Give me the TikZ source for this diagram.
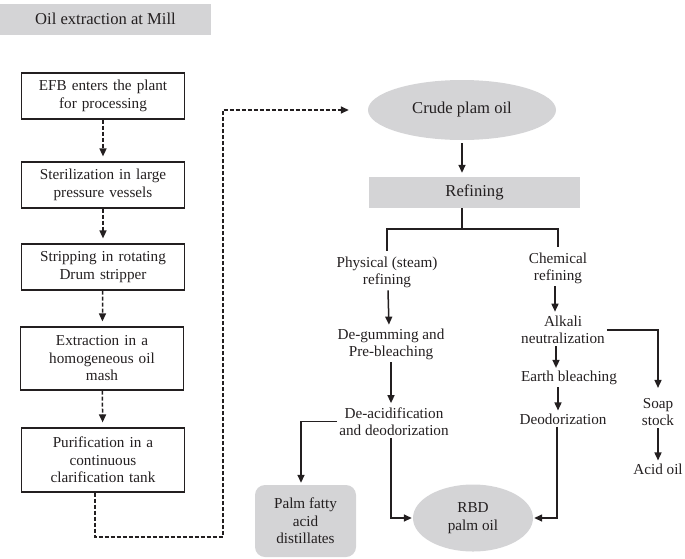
\documentclass[tikz,border=0pt]{standalone}
\usepackage{fontspec}
\setmainfont{Liberation Serif}
\usetikzlibrary{arrows.meta,shapes.geometric}
\definecolor{fillg}{RGB}{212,212,214}
\definecolor{ink}{RGB}{35,31,32}
\begin{document}
\begin{tikzpicture}[x=1pt,y=-1pt,
  every node/.style={text=ink, font=\fontsize{15.2}{17.5}\selectfont, align=center},
  big/.style={font=\fontsize{16.6}{19}\selectfont},
  stepbox/.style={draw=ink, line width=1.2pt, minimum width=163pt, text width=150pt, inner sep=0pt},
  plain/.style={inner sep=2pt},
  grayrect/.style={fill=fillg, inner sep=0pt, big},
  conn/.style={draw=ink, line width=1.5pt},
  arr/.style={conn, -{Triangle[length=8pt,width=7pt]}},
  darr/.style={arr, dash pattern=on 4pt off 2pt},
]
\useasboundingbox (0,0) rectangle (685,558);

% title
\node[grayrect, minimum width=211pt, minimum height=31pt] (title) at (105.5,19) {Oil extraction at Mill};

% left column
\node[stepbox, minimum height=46pt] (b1) at (103,96) {EFB enters the plant\\for processing};
\node[stepbox, minimum height=46pt] (b2) at (103,185) {Sterilization in large\\pressure vessels};
\node[stepbox, minimum height=46pt] (b3) at (103,267) {Stripping in rotating\\Drum stripper};
\node[stepbox, minimum height=63pt] (b4) at (102,358.5) {Extraction in a\\homogeneous oil\\mash};
\node[stepbox, minimum height=64pt] (b5) at (103,460) {Purification in a\\continuous\\clarification tank};

\draw[darr, shorten >=5pt] (b1) -- (b2);
\draw[darr, shorten >=5pt] (b2) -- (b3);
\draw[darr, shorten >=5pt] (b3) -- (b4);
\draw[darr, shorten >=5pt] (b4) -- (b5);

% right side
\node[ellipse, fill=fillg, minimum width=188pt, minimum height=60pt, inner sep=0pt, big] (crude) at (462,110) {Crude plam oil};
\coordinate (c1) at (223,537);
\draw[darr, shorten >=19pt] ([xshift=-8pt]b5.south) |- (c1) |- (crude.west);

\node[grayrect, minimum width=211pt, minimum height=31pt] (refine) at (474.5,192.5) {Refining};
\draw[arr, shorten <=3pt, shorten >=4pt] (crude.south) -- (refine.north -| crude.south);

\node[plain] (phys) at (387,272.5) {Physical (steam)\\refining};
\node[plain] (chem) at (558,268.5) {Chemical\\refining};
\coordinate (br) at ([yshift=-21pt]refine.south -| crude.south);
\draw[conn] (refine.south -| crude.south) -- (br) -| ([yshift=4pt]phys.north);
\draw[conn] (br) -| ([yshift=4pt]chem.north);

\node[plain] (degum) at (391,344.5) {De-gumming and\\Pre-bleaching};
\node[plain] (deacid) at (394,421.5) {De-acidification\\and deodorization};
\draw[arr, shorten >=2pt] ([xshift=1pt]phys.south) -- ([xshift=-2pt]degum.north);
\draw[arr, shorten >=2pt] (degum.south) -- (deacid.north -| degum.south);

\node[plain] (alkali) at (563,330) {Alkali\\neutralization};
\node[plain] (earth) at (569,378) {Earth bleaching};
\node[plain] (deodor) at (563,419) {Deodorization};
\draw[arr, shorten >=2pt] ([xshift=-3pt]chem.south) -- (alkali.north -| 555,0);
\draw[arr, shorten >=1pt] (alkali.south -| 556,0) -- (earth.north -| 556,0);
\draw[arr, shorten >=1pt] (earth.south -| 558,0) -- (deodor.north -| 558,0);

\node[plain] (soap) at (658,412) {Soap\\stock};
\node[plain] (acid) at (658,469) {Acid oil};
\draw[arr, shorten >=8pt] (alkali.east) -| (soap.north);
\draw[arr, shorten >=1pt] (soap.south) -- (acid.north);

\node[ellipse, fill=fillg, minimum width=120pt, minimum height=67pt, inner sep=0pt] (rbd) at (473,518) {RBD\\palm oil};
\node[rounded corners=10pt, fill=fillg, minimum width=101pt, minimum height=72pt, inner sep=0pt] (pfad) at (305.5,521) {Palm fatty\\acid\\distillates};

\draw[arr, shorten >=1pt] ([xshift=-3pt]deacid.south) |- (rbd.west);
\draw[arr, shorten >=2pt] (deacid.west) -| ([xshift=-4.5pt]pfad.north);
\draw[arr, shorten >=1pt] ([xshift=-6pt]deodor.south) |- (rbd.east);
\end{tikzpicture}
\end{document}
